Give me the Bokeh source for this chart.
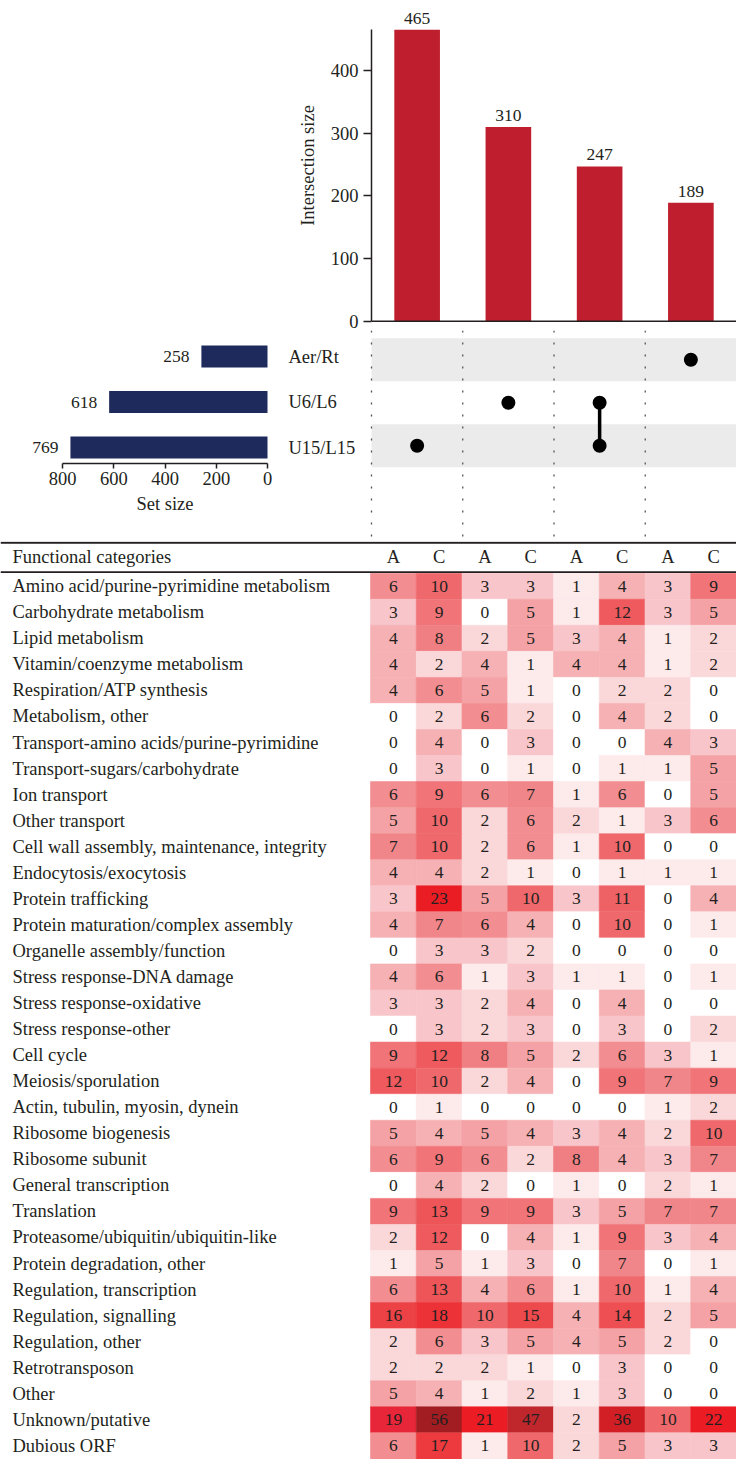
import numpy as np
from bokeh.plotting import figure
from bokeh.models import Range1d, Span, LabelSet, ColumnDataSource, FixedTicker, Spacer, LinearAxis
from bokeh.layouts import column, row
from bokeh.embed import file_html
from bokeh.resources import INLINE
from bokeh.core.properties import value

FONT = "Liberation Serif"
TXT = "#231f20"

# ---------------- data ----------------
intersection_sizes = [465, 310, 247, 189]
intersection_members = [["U15/L15"], ["U6/L6"], ["U6/L6", "U15/L15"], ["Aer/Rt"]]
set_names = ["Aer/Rt", "U6/L6", "U15/L15"]
set_sizes = [258, 618, 769]
bar_ticks = [0, 100, 200, 300, 400]
set_ticks = [800, 600, 400, 200, 0]

table_header = "Functional categories"
table_columns = ["A", "C", "A", "C", "A", "C", "A", "C"]
categories = [
    "Amino acid/purine-pyrimidine metabolism",
    "Carbohydrate metabolism",
    "Lipid metabolism",
    "Vitamin/coenzyme metabolism",
    "Respiration/ATP synthesis",
    "Metabolism, other",
    "Transport-amino acids/purine-pyrimidine",
    "Transport-sugars/carbohydrate",
    "Ion transport",
    "Other transport",
    "Cell wall assembly, maintenance, integrity",
    "Endocytosis/exocytosis",
    "Protein trafficking",
    "Protein maturation/complex assembly",
    "Organelle assembly/function",
    "Stress response-DNA damage",
    "Stress response-oxidative",
    "Stress response-other",
    "Cell cycle",
    "Meiosis/sporulation",
    "Actin, tubulin, myosin, dynein",
    "Ribosome biogenesis",
    "Ribosome subunit",
    "General transcription",
    "Translation",
    "Proteasome/ubiquitin/ubiquitin-like",
    "Protein degradation, other",
    "Regulation, transcription",
    "Regulation, signalling",
    "Regulation, other",
    "Retrotransposon",
    "Other",
    "Unknown/putative",
    "Dubious ORF",
]
counts = [
    [6, 10, 3, 3, 1, 4, 3, 9],
    [3, 9, 0, 5, 1, 12, 3, 5],
    [4, 8, 2, 5, 3, 4, 1, 2],
    [4, 2, 4, 1, 4, 4, 1, 2],
    [4, 6, 5, 1, 0, 2, 2, 0],
    [0, 2, 6, 2, 0, 4, 2, 0],
    [0, 4, 0, 3, 0, 0, 4, 3],
    [0, 3, 0, 1, 0, 1, 1, 5],
    [6, 9, 6, 7, 1, 6, 0, 5],
    [5, 10, 2, 6, 2, 1, 3, 6],
    [7, 10, 2, 6, 1, 10, 0, 0],
    [4, 4, 2, 1, 0, 1, 1, 1],
    [3, 23, 5, 10, 3, 11, 0, 4],
    [4, 7, 6, 4, 0, 10, 0, 1],
    [0, 3, 3, 2, 0, 0, 0, 0],
    [4, 6, 1, 3, 1, 1, 0, 1],
    [3, 3, 2, 4, 0, 4, 0, 0],
    [0, 3, 2, 3, 0, 3, 0, 2],
    [9, 12, 8, 5, 2, 6, 3, 1],
    [12, 10, 2, 4, 0, 9, 7, 9],
    [0, 1, 0, 0, 0, 0, 1, 2],
    [5, 4, 5, 4, 3, 4, 2, 10],
    [6, 9, 6, 2, 8, 4, 3, 7],
    [0, 4, 2, 0, 1, 0, 2, 1],
    [9, 13, 9, 9, 3, 5, 7, 7],
    [2, 12, 0, 4, 1, 9, 3, 4],
    [1, 5, 1, 3, 0, 7, 0, 1],
    [6, 13, 4, 6, 1, 10, 1, 4],
    [16, 18, 10, 15, 4, 14, 2, 5],
    [2, 6, 3, 5, 4, 5, 2, 0],
    [2, 2, 2, 1, 0, 3, 0, 0],
    [5, 4, 1, 2, 1, 3, 0, 0],
    [19, 56, 21, 47, 2, 36, 10, 22],
    [6, 17, 1, 10, 2, 5, 3, 3],
]

# colour ramp anchors (value -> colour)
ramp = [(0, "#ffffff"), (1, "#fdeaeb"), (2, "#fad8da"), (3, "#f8c6ca"), (4, "#f6b1b4"),
        (5, "#f4a2a5"), (6, "#f28d91"), (8, "#f07f83"), (10, "#ef696c"), (12, "#ee5a5e"),
        (15, "#ec4a4d"), (18, "#ec3237"), (19, "#e82639"), (21, "#ec1c24"), (30, "#e41d25"),
        (36, "#d21f26"), (47, "#bf272d"), (56, "#a11d21")]


def hex2rgb(h):
    return [int(h[i:i + 2], 16) for i in (1, 3, 5)]


def colour_for(v):
    vs = [a[0] for a in ramp]
    cs = np.array([hex2rgb(a[1]) for a in ramp], dtype=float)
    rgb = [np.interp(v, vs, cs[:, k]) for k in range(3)]
    return "#%02x%02x%02x" % tuple(int(round(c)) for c in rgb)


def base_fig(**kw):
    p = figure(output_backend="svg", toolbar_location=None, **kw)
    p.outline_line_color = None
    p.xgrid.visible = False
    p.ygrid.visible = False
    p.background_fill_color = "white"
    p.border_fill_color = "white"
    return p


def style_axis(ax, size="18.5px"):
    ax.major_label_text_font = FONT
    ax.major_label_text_font_size = size
    ax.major_label_text_color = TXT
    ax.axis_label_text_font = FONT
    ax.axis_label_text_font_size = size
    ax.axis_label_text_font_style = "normal"
    ax.axis_label_text_color = TXT
    ax.axis_line_color = "#231f20"
    ax.axis_line_width = 1.5
    ax.major_tick_line_color = "#231f20"
    ax.major_tick_line_width = 1.5
    ax.minor_tick_line_color = None
    ax.major_tick_in = 0


ncol = len(intersection_sizes)
col_x = np.arange(ncol) + 0.5
set_y = np.arange(len(set_names))[::-1].astype(float)

# ---------------- intersection bars (top) ----------------
BAR_PX = 0.62675          # px per unit
TOP_H = 330
BASE_Y = 320.7            # pixel row of the zero line
pb = base_fig(width=448, height=TOP_H, x_range=Range1d(0, ncol),
              y_range=Range1d(-(TOP_H - BASE_Y) / BAR_PX, BASE_Y / BAR_PX),
              x_axis_location=None, min_border_left=83, min_border_right=0,
              min_border_top=0, min_border_bottom=0)
pb.vbar(x=col_x, top=intersection_sizes, width=0.5, fill_color="#be1e2d", line_color=None)
bsrc = ColumnDataSource(dict(x=col_x, y=intersection_sizes, t=[str(v) for v in intersection_sizes]))
pb.add_layout(LabelSet(source=bsrc, x="x", y="y", text="t", y_offset=6, text_align="center",
                       text_baseline="alphabetic", text_font=value(FONT), text_font_size="17.5px",
                       text_color=TXT))
ya = pb.yaxis[0]
ya.ticker = FixedTicker(ticks=bar_ticks)
ya.bounds = (0, max(intersection_sizes))
ya.axis_label = "Intersection size"
style_axis(ya)
ya.major_tick_out = 8
ya.major_label_standoff = 5
ya.axis_label_standoff = 10
pb.add_layout(Span(location=0, dimension="width", line_color="#231f20", line_width=1.5))

# ---------------- matrix + set sizes (one panel) ----------------
MID_H = 211
COL_PX = 91.25
AXIS_X = 371
BAND_PX = 43.0
BAND_TOP_C = 29.2          # px from panel top to centre of first band
SIZE_PX = 0.25625
SIZE_ZERO = 267
SET_PX = 45.5
SET_TOP_C = 26.0
y_top = (len(set_names) - 1) + BAND_TOP_C / BAND_PX
pm = base_fig(width=736, height=MID_H,
              x_range=Range1d(-AXIS_X / COL_PX, (736 - AXIS_X) / COL_PX),
              y_range=Range1d(y_top - MID_H / BAND_PX, y_top),
              x_axis_location=None, y_axis_location=None, min_border=0)
pm.extra_x_ranges = {"size": Range1d(SIZE_ZERO / SIZE_PX, -(736 - SIZE_ZERO) / SIZE_PX)}
sy_top = (len(set_names) - 1) + SET_TOP_C / SET_PX
pm.extra_y_ranges = {"sy": Range1d(sy_top - MID_H / SET_PX, sy_top)}

pm.hbar(y=set_y[::2], left=0, right=ncol, height=1, fill_color="#ebebeb", line_color=None)
for i in range(ncol):
    pm.add_layout(Span(location=i, dimension="height", line_color="#555555", line_width=1.3,
                       line_dash="2 10"))
dx, dy, sx0, sy0, sy1 = [], [], [], [], []
for j, members in enumerate(intersection_members):
    ys = [set_y[set_names.index(m)] for m in members]
    for yv in ys:
        dx.append(col_x[j])
        dy.append(yv)
    if len(ys) > 1:
        sx0.append(col_x[j])
        sy0.append(min(ys))
        sy1.append(max(ys))
pm.segment(x0=sx0, y0=sy0, x1=sx0, y1=sy1, line_color="black", line_width=3.5)
pm.scatter(x=dx, y=dy, size=14, fill_color="black", line_color=None)

# set-size bars
pm.hbar(y=set_y, left=0, right=set_sizes, height=0.48, fill_color="#1f2a5c", line_color=None,
        x_range_name="size", y_range_name="sy")
ssrc = ColumnDataSource(dict(y=set_y, v=set_sizes, z=[0] * len(set_sizes),
                             t=[str(v) for v in set_sizes], n=set_names))
pm.add_layout(LabelSet(source=ssrc, x="v", y="y", text="t", x_offset=-12, text_align="right",
                       text_baseline="middle", text_font=value(FONT), text_font_size="17.5px",
                       text_color=TXT, x_range_name="size", y_range_name="sy"))
pm.add_layout(LabelSet(source=ssrc, x="z", y="y", text="n", x_offset=21, text_align="left",
                       text_baseline="middle", text_font=value(FONT), text_font_size="18.5px",
                       text_color=TXT, x_range_name="size", y_range_name="sy"))
xa = LinearAxis(x_range_name="size", ticker=FixedTicker(ticks=set_ticks), axis_label="Set size")
xa.bounds = (0, max(set_ticks))
style_axis(xa)
xa.major_tick_out = 5
xa.major_label_standoff = 3
xa.axis_label_standoff = 6
xa.fixed_location = y_top - (463 - 330) / BAND_PX
pm.add_layout(xa, "below")

# ---------------- table / heatmap ----------------
nrow = len(categories)
TAB_H = 918
HEAD_PX = 31.7
ROW_H = 26.05
CELL_W = 45.75
CELL_X0 = 370
x_left = -CELL_X0 / CELL_W
top_y = -HEAD_PX / ROW_H
pt = base_fig(width=736, height=TAB_H, x_range=Range1d(x_left, (736 - CELL_X0) / CELL_W),
              y_range=Range1d(top_y + TAB_H / ROW_H, top_y), x_axis_location=None,
              y_axis_location=None, min_border=0)
rr, cc = np.meshgrid(np.arange(nrow), np.arange(len(table_columns)), indexing="ij")
vals = np.array(counts)
cell_src = ColumnDataSource(dict(
    x=(cc + 0.5).ravel(), y=(rr + 0.5).ravel(),
    c=[colour_for(v) for v in vals.ravel()],
    t=[str(v) for v in vals.ravel()],
))
pt.rect(x="x", y="y", width=1, height=1, source=cell_src, fill_color="c", line_color="c",
        line_width=0.6)
pt.text(x="x", y="y", text="t", source=cell_src, text_align="center", text_baseline="middle",
        text_font=value(FONT), text_font_size="17.5px", text_color=TXT)
pt.text(x=[x_left] * nrow, y=np.arange(nrow) + 0.5, text=categories, x_offset=12,
        text_align="left", text_baseline="middle", text_font=value(FONT),
        text_font_size="18.5px", text_color=TXT)
hdr_y = top_y + 15 / ROW_H
pt.text(x=[x_left], y=[hdr_y], text=[table_header], x_offset=12, text_align="left",
        text_baseline="middle", text_font=value(FONT), text_font_size="18.5px", text_color=TXT)
pt.text(x=np.arange(len(table_columns)) + 0.5, y=[hdr_y] * len(table_columns), text=table_columns,
        text_align="center", text_baseline="middle", text_font=value(FONT),
        text_font_size="18.5px", text_color=TXT)
pt.add_layout(Span(location=top_y + 1.2 / ROW_H, dimension="width", line_color="#231f20",
                   line_width=2))
pt.add_layout(Span(location=top_y + 30.7 / ROW_H, dimension="width", line_color="#231f20",
                   line_width=1.8))

layout = column(
    row(Spacer(width=288, height=TOP_H), pb),
    pm,
    pt,
)

open("out.html", "w").write(file_html(layout, INLINE))
